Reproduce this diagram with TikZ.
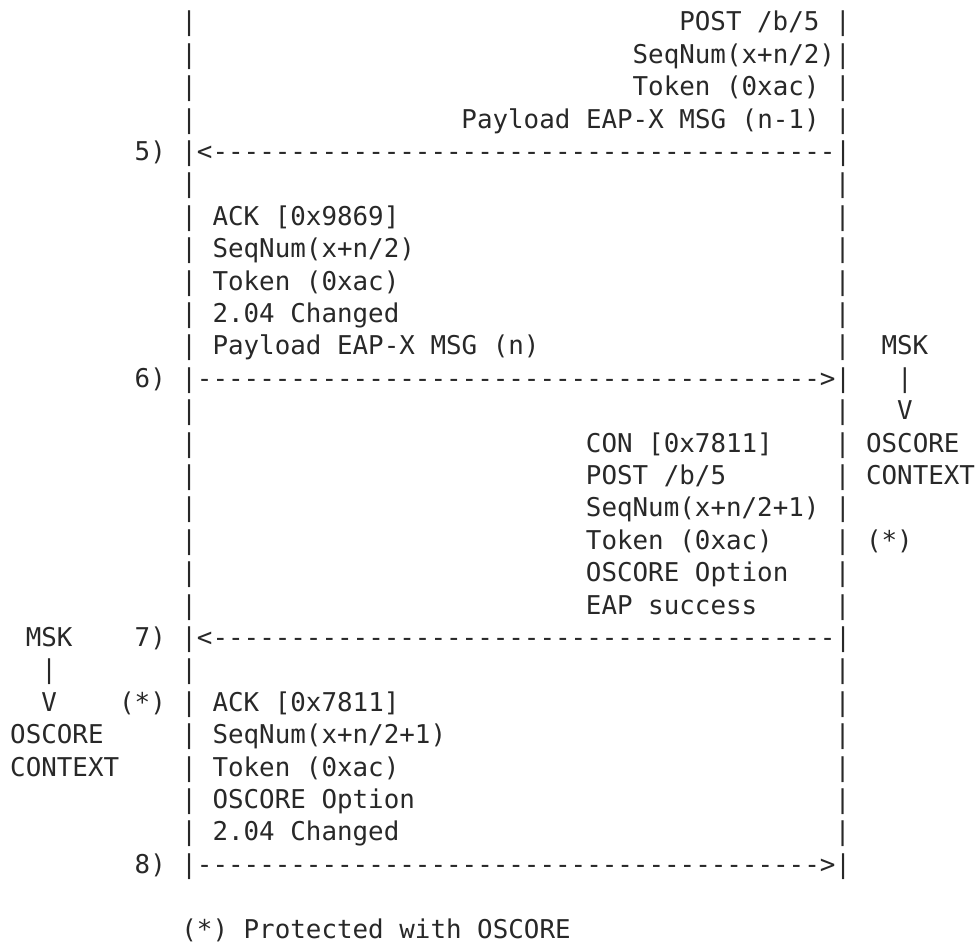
\documentclass[tikz,border=0pt]{standalone}
\usepackage{fontspec}
\setmonofont{DejaVu Sans Mono}
\usepackage{tikz}
\usepackage{xcolor}
\definecolor{msgtext}{RGB}{40,40,40}
\tikzstyle{cell} = [anchor=base west, inner sep=0pt, outer sep=0pt, text=msgtext, font=\ttfamily\fontsize{19.4pt}{24pt}\selectfont]

\begin{document}
\begin{tikzpicture}[x=11.67pt, y=-24.3pt]
\useasboundingbox (-7.65pt,23.1pt) rectangle ++(732.75pt,-707.25pt);

% 5) POST coming back from the right
\node[cell] (a0) at (11,0) {|};
\node[cell] (b0) at (43,0) {POST /b/5 |};
\node[cell] (a1) at (11,1) {|};
\node[cell] (b1) at (40,1) {SeqNum(x+n/2)|};
\node[cell] (a2) at (11,2) {|};
\node[cell] (b2) at (40,2) {Token (0xac) |};
\node[cell] (a3) at (11,3) {|};
\node[cell] (b3) at (29,3) {Payload EAP-X MSG (n-1) |};
\node[cell] (msg5) at (8,4) {5) |<----------------------------------------|};
\node[cell] (a5) at (11,5) {|};
\node[cell] (b5) at (53,5) {|};

% 6) ACK going right, MSK on the right
\node[cell] (a6) at (11,6) {| ACK [0x9869]};
\node[cell] (b6) at (53,6) {|};
\node[cell] (a7) at (11,7) {| SeqNum(x+n/2)};
\node[cell] (b7) at (53,7) {|};
\node[cell] (a8) at (11,8) {| Token (0xac)};
\node[cell] (b8) at (53,8) {|};
\node[cell] (a9) at (11,9) {| 2.04 Changed};
\node[cell] (b9) at (53,9) {|};
\node[cell] (a10) at (11,10) {| Payload EAP-X MSG (n)};
\node[cell] (b10) at (53,10) {|};
\node[cell] (mskr) at (56,10) {MSK};
\node[cell] (msg6) at (8,11) {6) |---------------------------------------->|};
\node[cell] (c11) at (57,11) {|};
\node[cell] (a12) at (11,12) {|};
\node[cell] (b12) at (53,12) {|};
\node[cell] (c12) at (57,12) {V};

% 7) CON with OSCORE
\node[cell] (a13) at (11,13) {|};
\node[cell] (m13) at (37,13) {CON [0x7811]};
\node[cell] (b13) at (53,13) {| OSCORE};
\node[cell] (a14) at (11,14) {|};
\node[cell] (m14) at (37,14) {POST /b/5};
\node[cell] (b14) at (53,14) {| CONTEXT};
\node[cell] (a15) at (11,15) {|};
\node[cell] (m15) at (37,15) {SeqNum(x+n/2+1) |};
\node[cell] (a16) at (11,16) {|};
\node[cell] (m16) at (37,16) {Token (0xac)};
\node[cell] (b16) at (53,16) {| (*)};
\node[cell] (a17) at (11,17) {|};
\node[cell] (m17) at (37,17) {OSCORE Option};
\node[cell] (b17) at (53,17) {|};
\node[cell] (a18) at (11,18) {|};
\node[cell] (m18) at (37,18) {EAP success};
\node[cell] (b18) at (53,18) {|};
\node[cell] (mskl) at (1,19) {MSK};
\node[cell] (msg7) at (8,19) {7) |<----------------------------------------|};

% 8) ACK with OSCORE, context on the left
\node[cell] (c20) at (2,20) {|};
\node[cell] (a20) at (11,20) {|};
\node[cell] (b20) at (53,20) {|};
\node[cell] (c21) at (2,21) {V};
\node[cell] (a21) at (7,21) {(*) | ACK [0x7811]};
\node[cell] (b21) at (53,21) {|};
\node[cell] (c22) at (0,22) {OSCORE};
\node[cell] (a22) at (11,22) {| SeqNum(x+n/2+1)};
\node[cell] (b22) at (53,22) {|};
\node[cell] (c23) at (0,23) {CONTEXT};
\node[cell] (a23) at (11,23) {| Token (0xac)};
\node[cell] (b23) at (53,23) {|};
\node[cell] (a24) at (11,24) {| OSCORE Option};
\node[cell] (b24) at (53,24) {|};
\node[cell] (a25) at (11,25) {| 2.04 Changed};
\node[cell] (b25) at (53,25) {|};
\node[cell] (msg8) at (8,26) {8) |---------------------------------------->|};

% footnote
\node[cell] (note) at (11,28) {(*) Protected with OSCORE};
\end{tikzpicture}
\end{document}
